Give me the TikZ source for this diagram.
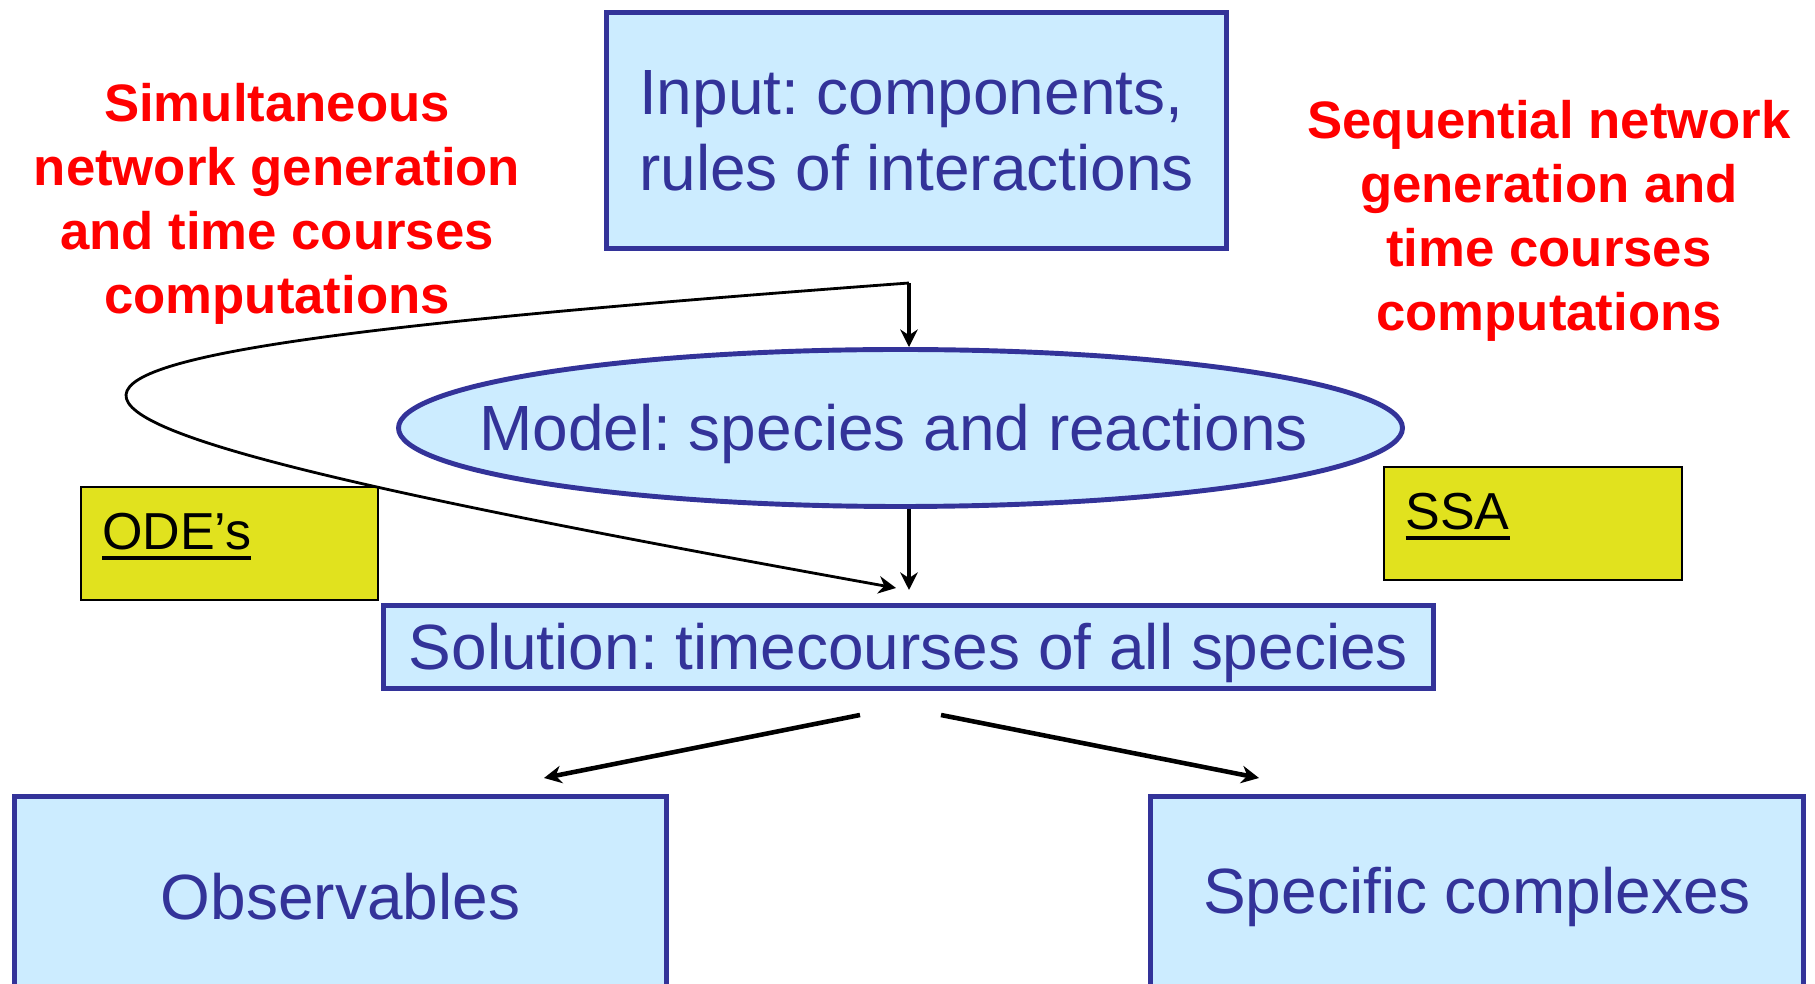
\documentclass[tikz,border=0pt]{standalone}
\usepackage{fontspec}
\setmainfont{Liberation Sans}
\usepackage{xcolor}
\usepackage{tikz}
\usetikzlibrary{shapes.geometric,arrows.meta,positioning,calc}
\definecolor{boxblue}{RGB}{204,236,255}
\definecolor{lineblue}{RGB}{51,51,153}
\definecolor{labyellow}{RGB}{225,226,30}
\tikzset{
  bluebox/.style={rectangle, draw=lineblue, fill=boxblue, line width=1.4pt, inner sep=0pt, text=lineblue, font=\fontsize{18.2}{21.6}\selectfont},
  modelell/.style={ellipse, draw=lineblue, fill=boxblue, line width=1.4pt, inner sep=0pt, text=lineblue, font=\fontsize{18.2}{21.6}\selectfont},
  lowtext/.style={text height=0.55cm, text depth=0.095cm},
  labbox/.style={rectangle, draw=black, fill=labyellow, line width=0.6pt, inner xsep=0.21cm, inner ysep=0.1cm, text width=2.55cm, align=left, text height=0.53cm, text depth=0.4cm, font=\fontsize{14.8}{17}\selectfont},
  redtext/.style={text=red, align=center, font=\bfseries\fontsize{15}{18.2}\selectfont},
  arrow/.style={-{Stealth[length=5pt, width=5pt]}, line width=1pt},
  thickarrow/.style={-{Stealth[length=5pt, width=5pt]}, line width=1.3pt},
  thinarrow/.style={-{Stealth[length=5pt, width=5pt]}, line width=0.8pt},
}
\newcommand{\thickul}[1]{\setbox0\hbox{#1}\rlap{\rule[-2.8pt]{\wd0}{0.95pt}}\box0}
\frenchspacing

\begin{document}
\begin{tikzpicture}
  \useasboundingbox (0,0) rectangle (18.15,9.84);

  % Main boxes
  \node[bluebox, minimum width=6.2cm, minimum height=2.36cm, align=left] (input) at (9.165,8.535) {Input: components,\\rules of interactions};
  \node[modelell, lowtext, minimum width=10.04cm, minimum height=1.57cm] (model) at (9.005,5.56) {\makebox[0pt]{Model: species and reactions\hspace{0.14cm}}};
  \node[bluebox, lowtext, minimum width=10.5cm, minimum height=0.83cm] (solution) at (9.085,3.37) {Solution: timecourses of all species};
  \node[bluebox, minimum width=6.52cm, minimum height=2.0cm] (observables) at (3.405,0.875) {Observables};
  \node[bluebox, minimum width=6.53cm, minimum height=2.0cm] (complexes) at (14.77,0.875) {Specific complexes};

  % Method labels
  \node[labbox, minimum width=2.97cm] (ode) at (2.295,4.405) {\thickul{ODE’s}};
  \node[labbox, minimum width=2.98cm] (ssa) at (15.33,4.605) {\thickul{SSA}};

  % Red captions
  \node[redtext] (simcap) at (2.77,7.80) {Simultaneous\\network generation\\and time courses\\computations};
  \node[redtext] (seqcap) at (15.49,7.635) {Sequential network\\generation and\\time courses\\computations};

  % Connector points
  \coordinate (split) at (9.09,7.01);
  \coordinate (soltop) at (9.09,3.94);
  \coordinate (loopend) at (8.96,3.96);
  \coordinate (fromL) at (8.60,2.69);
  \coordinate (toL) at (5.44,2.06);
  \coordinate (fromR) at (9.41,2.69);
  \coordinate (toR) at (12.59,2.06);

  % Arrows
  \draw[arrow] (split) -- (split |- model.north);
  \draw[arrow] (split |- model.south) -- (soltop);
  \draw[thinarrow] (split) .. controls (-1.31,6.24) and (-1.31,5.81) .. (loopend);
  \draw[thickarrow] (fromL) -- (toL);
  \draw[thickarrow] (fromR) -- (toR);

\end{tikzpicture}
\end{document}
